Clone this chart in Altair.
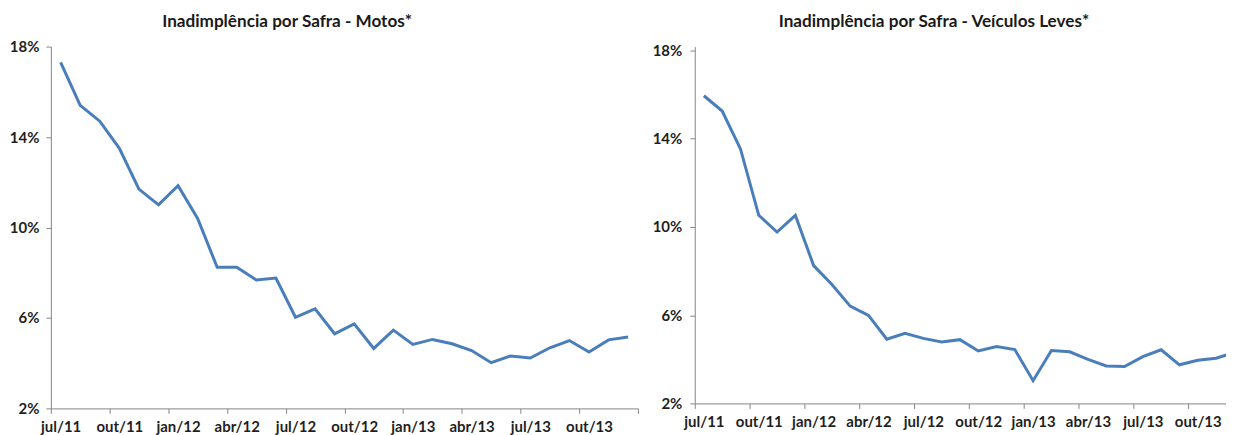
import json
import altair as alt
import pandas as pd

months = ["jul/11", "ago/11", "set/11", "out/11", "nov/11", "dez/11",
          "jan/12", "fev/12", "mar/12", "abr/12", "mai/12", "jun/12",
          "jul/12", "ago/12", "set/12", "out/12", "nov/12", "dez/12",
          "jan/13", "fev/13", "mar/13", "abr/13", "mai/13", "jun/13",
          "jul/13", "ago/13", "set/13", "out/13", "nov/13", "dez/13"]

motos = [17.3, 15.4, 14.7, 13.5, 11.7, 11.0, 11.85, 10.4, 8.24, 8.24,
         7.68, 7.76, 6.03, 6.40, 5.30, 5.74, 4.65, 5.46, 4.83, 5.05,
         4.86, 4.56, 4.02, 4.32, 4.23, 4.68, 5.00, 4.49, 5.03, 5.16]

leves = [15.95, 15.26, 13.54, 10.53, 9.77, 10.53, 8.25, 7.39, 6.41, 5.99,
         4.91, 5.18, 4.95, 4.79, 4.89, 4.38, 4.58, 4.44, 3.03, 4.40,
         4.34, 4.00, 3.70, 3.67, 4.12, 4.43, 3.75, 3.96, 4.05, 4.31]

y_ticks = [2, 6, 10, 14, 18]
titles = ["Inadimplência por Safra - Motos*",
          "Inadimplência por Safra - Veículos Leves*"]

LINE = "#4a7ebb"
AXIS = "#868686"
TXT = "#1f1f1f"
FONT = "Lato"


def panel(values, title, width, height, x_max, y_max, title_dx, title_off,
          label_off, ylab_pad):
    n = len(months)
    df = pd.DataFrame({"pos": [i + 0.5 for i in range(n)],
                       "mes": months, "v": values})
    tick_vals = [t for t in range(0, n + 1, 3) if t <= x_max]
    labels_js = json.dumps(months)
    xaxis = alt.Axis(values=tick_vals,
                     labelExpr=f"datum.value < {n} ? {labels_js}[datum.value] : ''",
                     labelOffset={"condition": {"test": f"datum.value >= {n}", "value": -15},
                                  "value": label_off},
                     labelPadding=6, tickSize=5,
                     labelOverlap=False, labelBound=False, labelFlush=False,
                     title=None, grid=False)
    yaxis = alt.Axis(values=y_ticks, labelExpr="datum.value + '%'",
                     tickSize=5, labelPadding=ylab_pad, title=None, grid=False,
                     labelOverlap=False)
    return alt.Chart(df).mark_line(color=LINE, strokeWidth=3, clip=True).encode(
        x=alt.X("pos:Q", scale=alt.Scale(domain=[0, x_max], nice=False, zero=False),
                axis=xaxis),
        y=alt.Y("v:Q", scale=alt.Scale(domain=[2, y_max], nice=False, zero=False),
                axis=yaxis),
    ).properties(
        width=width, height=height,
        title=alt.TitleParams(title, dx=title_dx, offset=title_off,
                              frame="group", anchor="middle"),
    )


left = panel(motos, titles[0], 589, 363, 30, 18, -57.5, 9.5, 9.8, 7)
# right panel runs past the window edge, as in the reference (clipped by negative padding)
right = panel(leves, titles[1], 542, 358, 542 / 18.35, 18 + 4 / 22.125,
              -31, 13.5, 9.2, 8)

chart = alt.hconcat(left, right, spacing=13).properties(
    padding={"left": 1, "top": 4, "right": -9, "bottom": 0}
).configure_view(stroke=None).configure_axis(
    domainColor=AXIS, tickColor=AXIS, domainWidth=1, tickWidth=1,
    labelFont=FONT, labelFontSize=15, labelFontWeight="bold", labelColor=TXT,
).configure_title(
    font=FONT, fontSize=17.2, fontWeight="bold", color="#1a1a1a",
)

chart.save("out.html", embed_options={"renderer": "svg", "actions": False})
